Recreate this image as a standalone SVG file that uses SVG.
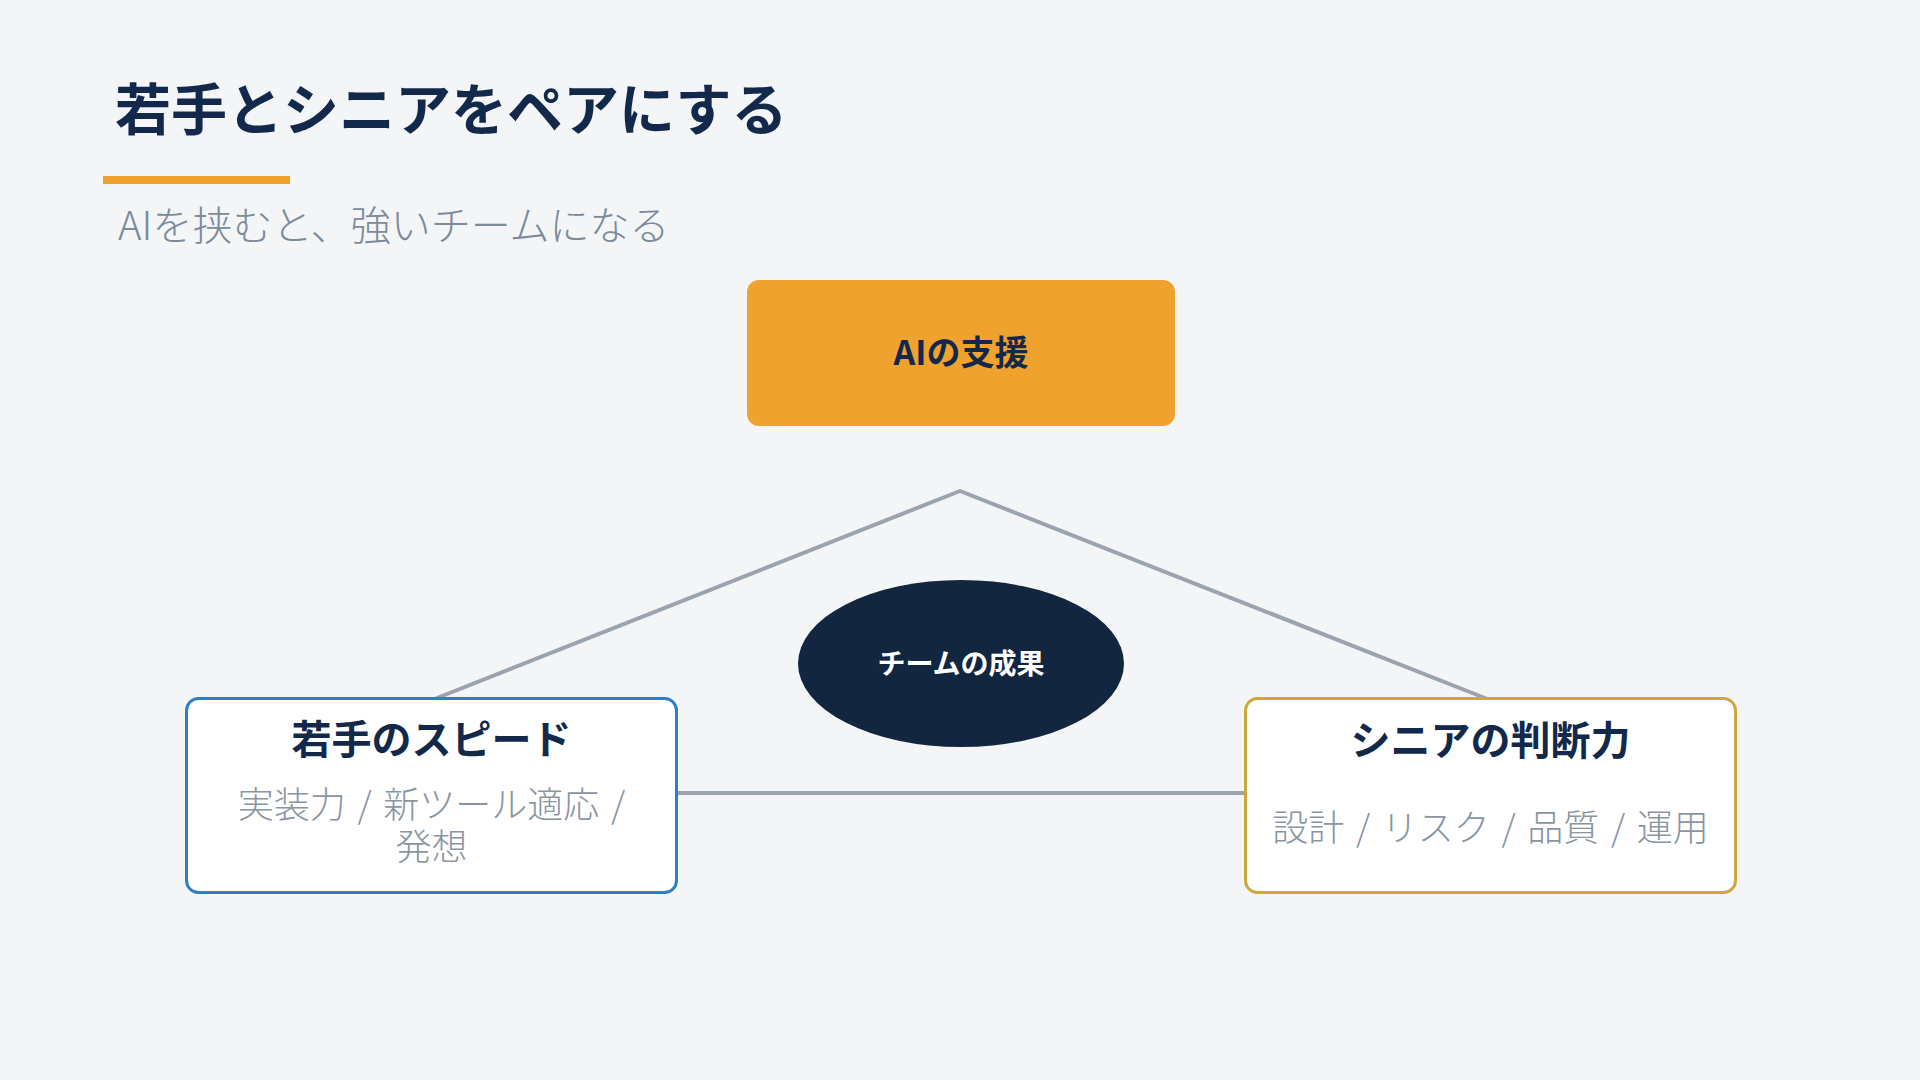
<svg xmlns="http://www.w3.org/2000/svg" width="1920" height="1080" viewBox="0 0 1920 1080">
  <style>
    .jp { font-family: "Noto Sans CJK JP", "Noto Sans", sans-serif; }
    .title { font-size: 56px; font-weight: 700; fill: #13294b; }
    .subtitle { font-size: 40px; font-weight: 300; fill: #7d8a99; }
    .conn { stroke: #9aa3ae; stroke-width: 4; fill: none; stroke-linecap: round; stroke-linejoin: round; }
    .box { fill: #ffffff; stroke-width: 3; }
    .head { font-size: 40px; font-weight: 700; fill: #13294b; text-anchor: middle; }
    .desc { font-size: 36px; font-weight: 300; fill: #8a95a3; text-anchor: middle; word-spacing: 3.7px; }
  </style>
  <rect width="1920" height="1080" fill="#f3f5f7"/>

  <text class="jp title" x="115" y="130">若手とシニアをペアにする</text>
  <rect x="103" y="176" width="187" height="8" fill="#f0a22e"/>
  <text class="jp subtitle" x="118" y="240">AIを挟むと、強いチームになる</text>

  <g id="connectors">
    <polyline class="conn" points="432,700 960,491 1490,700"/>
    <line class="conn" x1="677" y1="793" x2="1245" y2="793" stroke-linecap="butt"/>
  </g>

  <g id="node-ai">
    <rect x="747" y="280" width="428" height="146" rx="12" fill="#f0a22e"/>
    <text class="jp" x="961" y="365" font-size="34" font-weight="700" fill="#13294b" text-anchor="middle">AIの支援</text>
  </g>

  <g id="node-result">
    <ellipse cx="961" cy="663.5" rx="163" ry="83.5" fill="#12263f"/>
    <text class="jp" x="961" y="674" font-size="28" font-weight="700" fill="#ffffff" text-anchor="middle">チームの成果</text>
  </g>

  <g id="node-junior">
    <rect class="box" x="186.5" y="698.5" width="490" height="194" rx="12" stroke="#2f7fc6"/>
    <text class="jp head" x="431.5" y="754">若手のスピード</text>
    <text class="jp desc" x="431.5" y="818">実装力 / 新ツール適応 /<tspan x="431.5" dy="42">発想</tspan></text>
  </g>

  <g id="node-senior">
    <rect class="box" x="1245.5" y="698.5" width="490" height="194" rx="12" stroke="#cfa83c"/>
    <text class="jp head" x="1490.5" y="755">シニアの判断力</text>
    <text class="jp desc" x="1490.5" y="841">設計 / リスク / 品質 / 運用</text>
  </g>
</svg>
